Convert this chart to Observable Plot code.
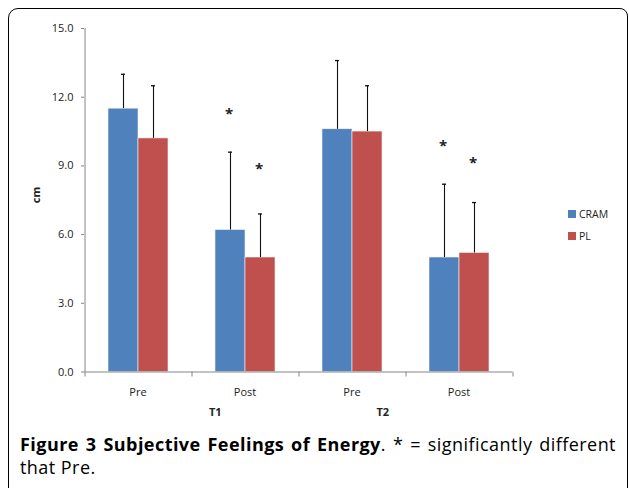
<!DOCTYPE html>
<html>
<head>
<meta charset="utf-8">
<script src="https://cdn.jsdelivr.net/npm/d3@7"></script>
<script src="https://cdn.jsdelivr.net/npm/@observablehq/plot@0.6"></script>
<style>
  html, body { margin: 0; padding: 0; background: #fff; }
  #wrap { position: relative; width: 629px; height: 488px; overflow: hidden; font-family: "Open Sans", sans-serif; }
  #frame { position: absolute; left: 8px; top: 8px; width: 620px; height: 600px; box-sizing: border-box;
           border: 1px solid #000; border-radius: 10px 8px 0 0; }
  #chart { position: absolute; left: 0; top: 0; }
  .leg { position: absolute; font-size: 10.5px; color: #222; line-height: 12px; }
  .leg span { display: inline-block; width: 8px; height: 8px; margin-right: 3px; vertical-align: -0px; }
  #caption { position: absolute; left: 20px; top: 433px; width: 596px; font-size: 18px; line-height: 23px;
             letter-spacing: 0.45px; text-align: justify; text-align-last: left; color: #000; }
</style>
</head>
<body>
<div id="wrap">
  <div id="frame"></div>
  <div id="chart"></div>
  <div class="leg" style="left:568px; top:208px;"><span style="background:#4F81BD"></span>CRAM</div>
  <div class="leg" style="left:568px; top:230px;"><span style="background:#C0504D"></span>PL</div>
  <div id="caption"><b>Figure 3 Subjective Feelings of Energy</b><span>. * = significantly different that Pre.</span></div>
</div>
<script>
// ---- data ----
const groups = ["Pre|T1", "Post|T1", "Pre|T2", "Post|T2"];
const series = ["CRAM", "PL"];
const cramMean = [11.5, 6.2, 10.6, 5.0];
const plMean   = [10.2, 5.0, 10.5, 5.2];
const cramUpper = [13.0, 9.6, 13.6, 8.2];
const plUpper   = [12.5, 6.9, 12.5, 7.4];
const cramStar = [null, 11.25, null, 9.85];
const plStar   = [null, 8.85, null, 9.1];
const yTicks = [0, 3, 6, 9, 12, 15];
const periodLabels = ["T1", "T2"];

// ---- build table ----
const rows = [];
groups.forEach((g, i) => {
  rows.push({group: g, series: "CRAM", value: cramMean[i], upper: cramUpper[i], star: cramStar[i]});
  rows.push({group: g, series: "PL", value: plMean[i], upper: plUpper[i], star: plStar[i]});
});
const starRows = rows.filter(d => d.star != null);

// ---- layout ----
const W = 629, H = 420;
const mL = 83, mR = 116, mT = 28, mB = 48.5;
const padOuter = 0.76;
const facetW = (W - mL - mR) / groups.length;
const step = facetW / (series.length + 2 * padOuter);
const edgeDx = padOuter * step + step / 2; // from band centre to facet edge
const axisColor = "#868686";

const chart = Plot.plot({
  width: W, height: H,
  marginLeft: mL, marginRight: mR, marginTop: mT, marginBottom: mB,
  style: {fontFamily: "Open Sans", fontSize: "11px", background: "transparent", color: "#222"},
  fx: {domain: groups, padding: 0, axis: null},
  x: {domain: series, paddingInner: 0, paddingOuter: padOuter, axis: null},
  y: {domain: [0, 15], axis: null},
  color: {domain: series, range: ["#4F81BD", "#C0504D"]},
  marks: [
    Plot.barY(rows, {fx: "group", x: "series", y: "value", fill: "series", stroke: "#f4f4f4", strokeWidth: 0.6}),
    Plot.ruleX(rows, {fx: "group", x: "series", y1: "value", y2: "upper", stroke: "#111", strokeWidth: 1.1}),
    Plot.tickY(rows, {fx: "group", x: "series", y: "upper", inset: 13, stroke: "#111", strokeWidth: 1.3}),
    Plot.text(starRows, {fx: "group", x: "series", y: "star", dx: -1.5, text: () => "*", fontSize: 15, fontWeight: "bold", fill: "#222"}),
    Plot.ruleY([0], {stroke: axisColor}),
    Plot.ruleX([groups[0]], {fx: d => d, x: () => series[0], y1: 0, y2: 15, dx: -edgeDx, stroke: axisColor}),
    Plot.ruleX(groups, {fx: d => d, x: () => series[0], y1: 0, y2: 0, insetBottom: -5, dx: -edgeDx, stroke: axisColor}),
    Plot.ruleX([groups[groups.length - 1]], {fx: d => d, x: () => series[1], y1: 0, y2: 0, insetBottom: -5, dx: edgeDx, stroke: axisColor}),
    Plot.axisY({ticks: yTicks, tickFormat: d => d.toFixed(1), tickSize: 3, tickPadding: 8, stroke: axisColor, fill: "#222", label: null}),
    Plot.axisFx({anchor: "bottom", tickFormat: d => d.split("|")[0], tickSize: 0, tickPadding: 16, fill: "#222", label: null}),
    Plot.text([periodLabels[0]], {fx: () => groups[1], x: () => series[0], text: d => d, frameAnchor: "bottom", dy: 43.5, dx: -step / 2, fontWeight: "bold", fontSize: 11, fill: "#222"}),
    Plot.text([periodLabels[1]], {fx: () => groups[2], x: () => series[1], text: d => d, frameAnchor: "bottom", dy: 43.5, dx: step / 2, fontWeight: "bold", fontSize: 11, fill: "#222"}),
    Plot.text(["cm"], {fx: () => groups[0], frameAnchor: "left", dx: -48, dy: 3, rotate: -90, text: d => d, fontWeight: "bold", fontSize: 11, fill: "#222"})
  ]
});
document.getElementById("chart").appendChild(chart);
</script>
</body>
</html>
